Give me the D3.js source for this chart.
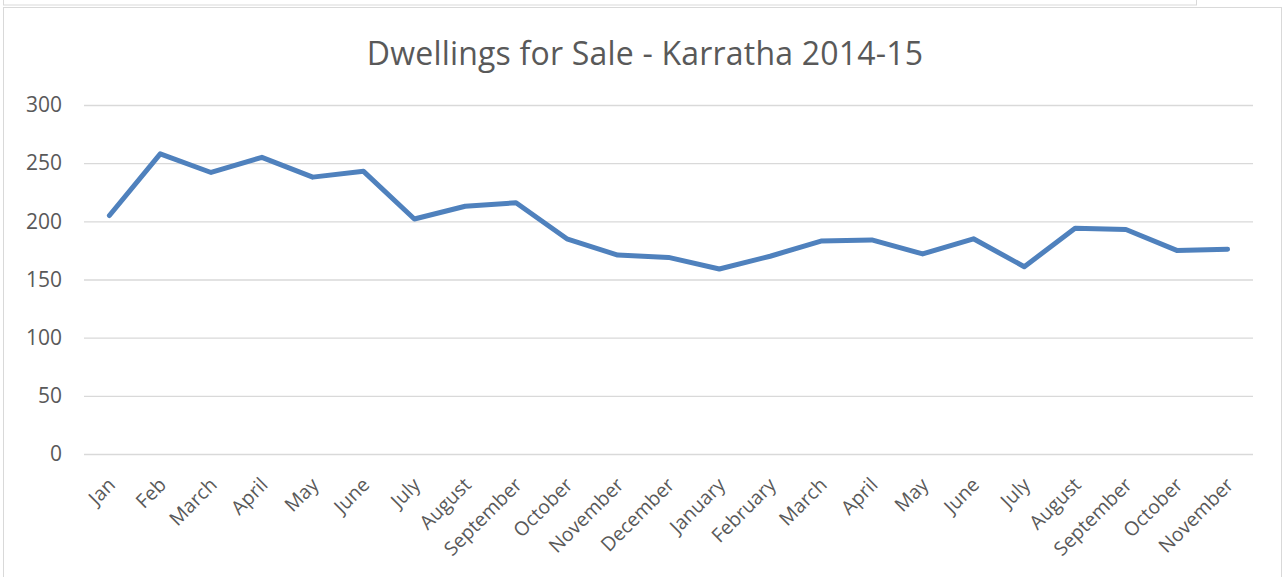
<!DOCTYPE html>
<html>
<head>
<meta charset="utf-8">
<script src="https://cdn.jsdelivr.net/npm/d3@7"></script>
<style>
  body { margin: 0; background: #fff; }
  svg { display: block; font-family: "Open Sans", sans-serif; }
</style>
</head>
<body>
<div id="chart"></div>
<script>
(function() {
    var months = ["Jan", "Feb", "March", "April", "May", "June", "July", "August", "September",
                  "October", "November", "December", "January", "February", "March", "April",
                  "May", "June", "July", "August", "September", "October", "November"];
    var dwellings = [205, 258, 242, 255, 238, 243, 202, 213, 216, 185, 171, 169,
                     159, 170, 183, 184, 172, 185, 161, 194, 193, 175, 176];
    var yTicks = [0, 50, 100, 150, 200, 250, 300];

    var W = 1287, H = 577;
    var margin = {left: 84, top: 105, right: 34, bottom: 123};
    var width = W - margin.left - margin.right,
        height = H - margin.top - margin.bottom;

    var svg = d3.select("#chart").append("svg")
        .attr("width", W)
        .attr("height", H);

    // outer frames
    svg.append("rect")
        .attr("x", 3.5).attr("y", -10).attr("width", 1193).attr("height", 15)
        .attr("fill", "#fff").attr("stroke", "#d9d9d9");
    svg.append("rect")
        .attr("x", 3.5).attr("y", 7.5).attr("width", 1278).attr("height", 580)
        .attr("fill", "#fff").attr("stroke", "#d9d9d9");

    svg.append("text")
        .attr("x", 645).attr("y", 65)
        .attr("text-anchor", "middle")
        .attr("fill", "#595959")
        .style("font-size", "32px")
        .style("letter-spacing", "0.2px")
        .text("Dwellings for Sale - Karratha 2014-15");

    var g = svg.append("g").attr("transform", "translate(" + margin.left + "," + margin.top + ")");

    // index-keyed because month names repeat
    var xScale = d3.scaleBand().domain(d3.range(months.length)).range([0, width]);
    var yScale = d3.scaleLinear().domain([0, 300]).range([height, 0]);

    var yAxis = d3.axisLeft(yScale).tickValues(yTicks).tickSize(-width).tickPadding(22);
    var gy = g.append("g").call(yAxis)
        .attr("font-family", "Open Sans, sans-serif");
    gy.select(".domain").remove();
    gy.selectAll("line").attr("stroke", "#d9d9d9").attr("stroke-width", 1.3);
    gy.selectAll("text").attr("fill", "#595959").style("font-size", "21px");

    var xAxis = d3.axisBottom(xScale).tickSize(0).tickFormat(function(i) { return months[i]; });
    var gx = g.append("g").attr("transform", "translate(0," + height + ")").call(xAxis)
        .attr("font-family", "Open Sans, sans-serif");
    gx.select(".domain").remove();
    gx.selectAll("text")
        .attr("fill", "#595959")
        .style("font-size", "19.5px")
        .attr("text-anchor", "end")
        .attr("dx", 0).attr("dy", 0)
        .attr("transform", "translate(5,30) rotate(-45)");

    var line = d3.line()
        .x(function(d, i) { return xScale(i) + xScale.bandwidth() / 2; })
        .y(function(d) { return yScale(d); });

    g.append("path")
        .datum(dwellings)
        .attr("fill", "none")
        .attr("stroke", "#4f81bd")
        .attr("stroke-width", 5)
        .attr("stroke-linejoin", "round")
        .attr("stroke-linecap", "round")
        .attr("d", line);
})();
</script>
</body>
</html>
